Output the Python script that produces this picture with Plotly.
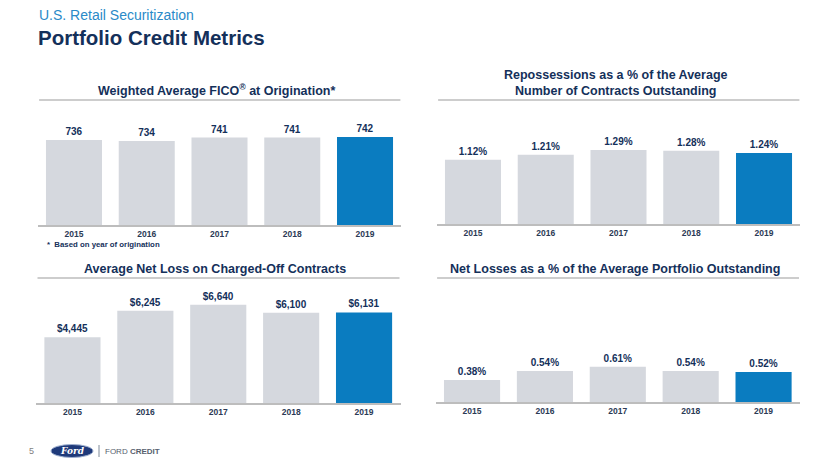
import plotly.graph_objects as go

# The page body has an 8px default margin, so the figure is drawn 8px smaller
# and all reference pixel coordinates are shifted by that offset.
OFF = 8
W, H = 830 - OFF, 467 - OFF

years = ["2015", "2016", "2017", "2018", "2019"]
fico = [736, 734, 741, 741, 742]
fico_labels = ["736", "734", "741", "741", "742"]
repo_pct = [1.12, 1.21, 1.29, 1.28, 1.24]
repo_labels = ["1.12%", "1.21%", "1.29%", "1.28%", "1.24%"]
net_loss = [4445, 6245, 6640, 6100, 6131]
net_loss_labels = ["$4,445", "$6,245", "$6,640", "$6,100", "$6,131"]
loss_pct = [0.38, 0.54, 0.61, 0.54, 0.52]
loss_labels = ["0.38%", "0.54%", "0.61%", "0.54%", "0.52%"]

titles = [
    "Weighted Average FICO<sup>®</sup> at Origination*",
    "Repossessions as a % of the Average<br>Number of Contracts Outstanding",
    "Average Net Loss on Charged-Off Contracts",
    "Net Losses as a % of the Average Portfolio Outstanding",
]

GREY = "#D5D8DE"
BLUE = "#0A7CC0"
NAVY = "#14305A"
LINE = "#BDBDBD"
FONT = "Liberation Sans, Arial, sans-serif"

colors = [GREY] * 4 + [BLUE]

def px(x):
    return (x - OFF) / W

def py(y):
    return 1 - (y - OFF) / H

# (x0, x1, y_top, y_base, range, values, labels, title_y, underline_y)
panels = [
    (37.6, 401.4, 105, 225, [566, 806], fico, fico_labels, 90, 100),
    (436.6, 800.4, 105, 224, [0, 2.077], repo_pct, repo_labels, 83.5, 100),
    (36.0, 400.5, 283, 403, [0, 8120], net_loss, net_loss_labels, 269, 278),
    (435.6, 800.0, 283, 402, [0, 2.066], loss_pct, loss_labels, 269, 278),
]

fig = go.Figure()
shapes = []
annotations = []

for i, (x0, x1, yt, yb, rng, vals, labs, ty, uy) in enumerate(panels):
    n = i + 1
    xa = "x" if n == 1 else f"x{n}"
    ya = "y" if n == 1 else f"y{n}"
    fig.add_trace(go.Bar(
        x=years, y=vals, text=labs, textposition="outside",
        marker=dict(color=colors, line=dict(width=0)),
        textfont=dict(family=FONT, size=10, color=NAVY, weight="bold"),
        cliponaxis=False, width=0.77,
        xaxis=xa, yaxis=ya, hoverinfo="skip", showlegend=False,
    ))
    xkey = "xaxis" if n == 1 else f"xaxis{n}"
    ykey = "yaxis" if n == 1 else f"yaxis{n}"
    fig.update_layout({
        xkey: dict(domain=[px(x0), px(x1)], anchor=ya, showgrid=False,
                   showline=True, linecolor=LINE, linewidth=1.5,
                   ticks="", tickfont=dict(family=FONT, size=8.5, color="#2B3A55", weight="bold"),
                   fixedrange=True),
        ykey: dict(domain=[py(yb), py(yt)], anchor=xa, range=rng,
                   visible=False, showgrid=False, fixedrange=True),
    })
    shapes.append(dict(type="line", xref="paper", yref="paper",
                       x0=px(x0 + 1.5), x1=px(x1 - 1), y0=py(uy), y1=py(uy),
                       line=dict(color=LINE, width=1.5)))
    annotations.append(dict(text=f"<b>{titles[i]}</b>", xref="paper", yref="paper",
                            x=px((x0 + x1) / 2 - 3), y=py(ty), xanchor="center",
                            yanchor="middle", showarrow=False,
                            font=dict(family=FONT, size=12.5, color=NAVY)))

# Page titles
annotations.append(dict(text="U.S. Retail Securitization", xref="paper", yref="paper",
                        x=px(37), y=py(15), xanchor="left", yanchor="middle",
                        showarrow=False, font=dict(family=FONT, size=14, color="#2A8AC8")))
annotations.append(dict(text="<b>Portfolio Credit Metrics</b>", xref="paper", yref="paper",
                        x=px(36), y=py(38), xanchor="left", yanchor="middle",
                        showarrow=False, font=dict(family=FONT, size=20.5, color=NAVY)))
# Footnote
annotations.append(dict(text="<b>*  Based on year of origination</b>", xref="paper", yref="paper",
                        x=px(45), y=py(244), xanchor="left", yanchor="middle",
                        showarrow=False, font=dict(family=FONT, size=7.8, color=NAVY)))
# Footer
annotations.append(dict(text="5", xref="paper", yref="paper",
                        x=px(31), y=py(451), xanchor="center", yanchor="middle",
                        showarrow=False, font=dict(family=FONT, size=9, color="#7F7F7F")))
shapes.append(dict(type="circle", xref="paper", yref="paper",
                   x0=px(51), x1=px(93), y0=py(457.5), y1=py(444.5),
                   fillcolor="#1F3A7A", line=dict(color="#9FB0D0", width=1)))
annotations.append(dict(text="<i><b>Ford</b></i>", xref="paper", yref="paper",
                        x=px(72), y=py(451), xanchor="center", yanchor="middle",
                        showarrow=False, font=dict(family="DejaVu Serif, serif", size=9, color="white")))
shapes.append(dict(type="line", xref="paper", yref="paper",
                   x0=px(99), x1=px(99), y0=py(445), y1=py(457),
                   line=dict(color="#7F8A99", width=1)))
annotations.append(dict(text="FORD <b>CREDIT</b>", xref="paper", yref="paper",
                        x=px(103), y=py(451), xanchor="left", yanchor="middle",
                        showarrow=False, font=dict(family=FONT, size=8, color="#56606E")))

fig.update_layout(
    width=W, height=H, margin=dict(l=0, r=0, t=0, b=0),
    paper_bgcolor="white", plot_bgcolor="white",
    shapes=shapes, annotations=annotations, bargap=0.23,
    font=dict(family=FONT),
)

fig.write_html("out.html")
